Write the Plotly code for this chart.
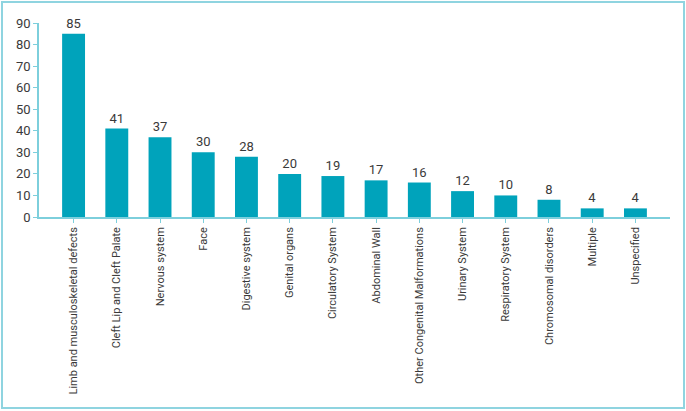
import plotly.graph_objects as go

categories = ["Limb and musculoskeletal defects", "Cleft Lip and Cleft Palate", "Nervous system",
              "Face", "Digestive system", "Genital organs", "Circulatory System", "Abdominal Wall",
              "Other Congenital Malformations", "Urinary System", "Respiratory System",
              "Chromosomal disorders", "Multiple", "Unspecified"]
values = [85, 41, 37, 30, 28, 20, 19, 17, 16, 12, 10, 8, 4, 4]

bar_color = "#00a3bb"
axis_color = "#7dcfdc"
fam = "Roboto"
font = dict(family=fam, size=13, color="#3a3a3a")

W, H = 686, 411
ml, mr, mt, mb = 39, 16, 23, 194
pw, ph = W - ml - mr, H - mt - mb

fig = go.Figure(go.Bar(
    x=list(range(len(categories))), y=values, width=0.53,
    marker=dict(color=bar_color, line=dict(width=0)),
    text=[str(v) for v in values], textposition="outside",
    textfont=dict(family=fam, size=13, color="#3a3a3a"),
    cliponaxis=False,
))

def px(x):
    return (x - ml) / pw

def py(y):
    return (H - mb - y) / ph

fig.update_layout(
    width=W, height=H,
    margin=dict(l=ml, r=mr, t=mt, b=mb, autoexpand=False),
    paper_bgcolor="white", plot_bgcolor="white",
    font=font, showlegend=False,
    xaxis=dict(
        tickmode="array", tickvals=list(range(len(categories))), ticktext=categories,
        tickangle=-90, range=[-0.8, len(categories) - 0.2], automargin=False,
        showline=True, linecolor=axis_color, linewidth=1.5,
        ticks="outside", ticklen=4, tickcolor=axis_color, showgrid=False, zeroline=False,
        tickfont=dict(family=fam, size=11, color="#3a3a3a"), ticklabelstandoff=0,
    ),
    yaxis=dict(
        range=[0, 90], dtick=10, tick0=0, automargin=False,
        showline=True, linecolor=axis_color, linewidth=1.5,
        ticks="outside", ticklen=4, tickcolor=axis_color, showgrid=False, zeroline=False,
        tickfont=dict(family=fam, size=13, color="#3a3a3a"),
    ),
    shapes=[dict(
        type="rect", xref="paper", yref="paper",
        x0=px(2), x1=px(684), y0=py(408), y1=py(2),
        line=dict(color="#8fd4e0", width=2), fillcolor="rgba(0,0,0,0)", layer="below",
    )],
)

fig.write_html("out.html")
